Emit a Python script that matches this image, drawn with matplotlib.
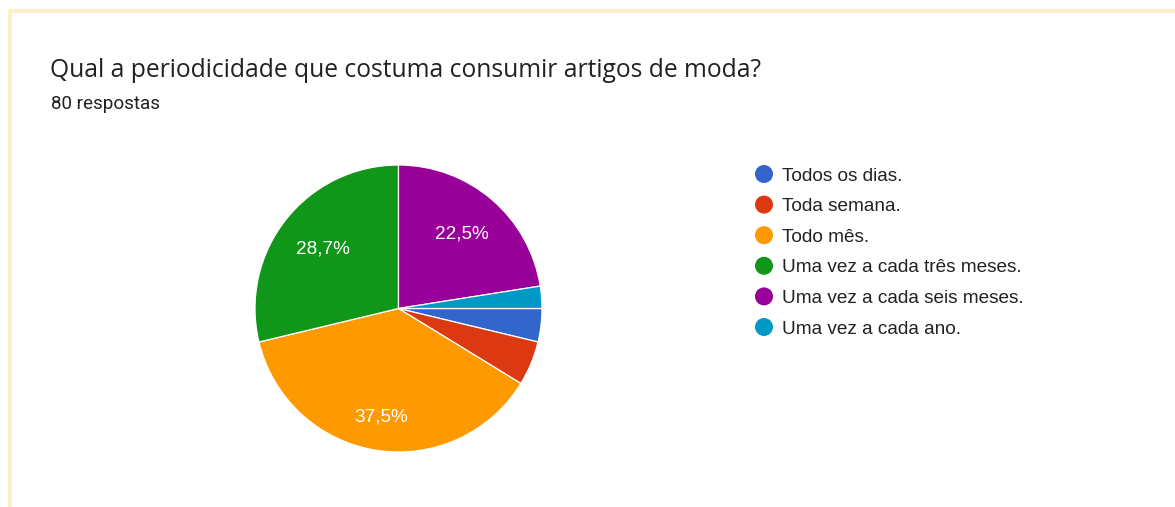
import math
import matplotlib
matplotlib.use("Agg")
import matplotlib.pyplot as plt
from matplotlib.patches import Circle, Rectangle

# Survey results (80 responses)
categories = [
    "Todos os dias.",
    "Toda semana.",
    "Todo mês.",
    "Uma vez a cada três meses.",
    "Uma vez a cada seis meses.",
    "Uma vez a cada ano.",
]
counts = [3, 4, 30, 23, 18, 2]
colors = ["#3366cc", "#dc3912", "#ff9900", "#109618", "#990099", "#0099c6"]
title = "Qual a periodicidade que costuma consumir artigos de moda?"
subtitle = "80 respostas"

W, H, DPI = 1175, 507, 100
fig = plt.figure(figsize=(W / DPI, H / DPI), dpi=DPI)
fig.patch.set_facecolor("white")

# Full-figure pixel-space axes for card border, headings and legend
bg = fig.add_axes([0, 0, 1, 1])
bg.set_xlim(0, W)
bg.set_ylim(H, 0)
bg.axis("off")

border = "#fdefca"
bg.add_patch(Rectangle((8, 9), W - 8, 3.7, color=border, lw=0))
bg.add_patch(Rectangle((8, 9), 4, H - 9, color=border, lw=0))

renderer = fig.canvas.get_renderer()


def fitted_size(text, target_px, family, start=14):
    t = bg.text(0, 0, text, fontsize=start, family=family)
    w = t.get_window_extent(renderer=renderer).width
    t.remove()
    return start * target_px / w


title_fs = fitted_size(title, 714, "Open Sans")
bg.text(50, 76.7, title, fontsize=title_fs, family="Open Sans",
        color="#202124", va="baseline", ha="left")

sub_fs = fitted_size(subtitle, 110, "Roboto")
bg.text(51, 109, subtitle, fontsize=sub_fs, family="Roboto",
        color="#202124", va="baseline", ha="left")

# Legend
leg_fs = fitted_size("Uma vez a cada seis meses.", 244, "Liberation Sans")
row0, step = 174, 30.6
for i, (lab, col) in enumerate(zip(categories, colors)):
    y = row0 + i * step
    bg.add_patch(Circle((764, y), 9, color=col, lw=0))
    bg.text(782, y + 6.7, lab, fontsize=leg_fs, family="Liberation Sans",
            color="#222222", va="baseline", ha="left")

# Pie
cx, cy, r = 398.5, 308.5, 143.5
pax = fig.add_axes([(cx - r) / W, 1 - (cy + r) / H, 2 * r / W, 2 * r / H])
wedges, _ = pax.pie(
    counts, colors=colors, startangle=0, counterclock=False,
    wedgeprops=dict(edgecolor="white", linewidth=0.9),
)
pax.set_xlim(-1, 1)
pax.set_ylim(-1, 1)
pax.set_aspect("equal")
pax.axis("off")

total = sum(counts)
label_fs = fitted_size("22,5%", 54, "Liberation Sans")
label_dist = {2: 0.766, 3: 0.673, 4: 0.685}
for i, w in enumerate(wedges):
    if i not in label_dist:
        continue
    pct = math.floor(counts[i] * 1000 / total) / 10
    txt = f"{pct:.1f}%".replace(".", ",")
    mid = math.radians((w.theta1 + w.theta2) / 2)
    d = label_dist[i]
    pax.text(d * math.cos(mid), d * math.sin(mid), txt, color="white",
             fontsize=label_fs, family="Liberation Sans",
             ha="center", va="center")

fig.savefig("out.png", dpi=DPI, facecolor="white")
